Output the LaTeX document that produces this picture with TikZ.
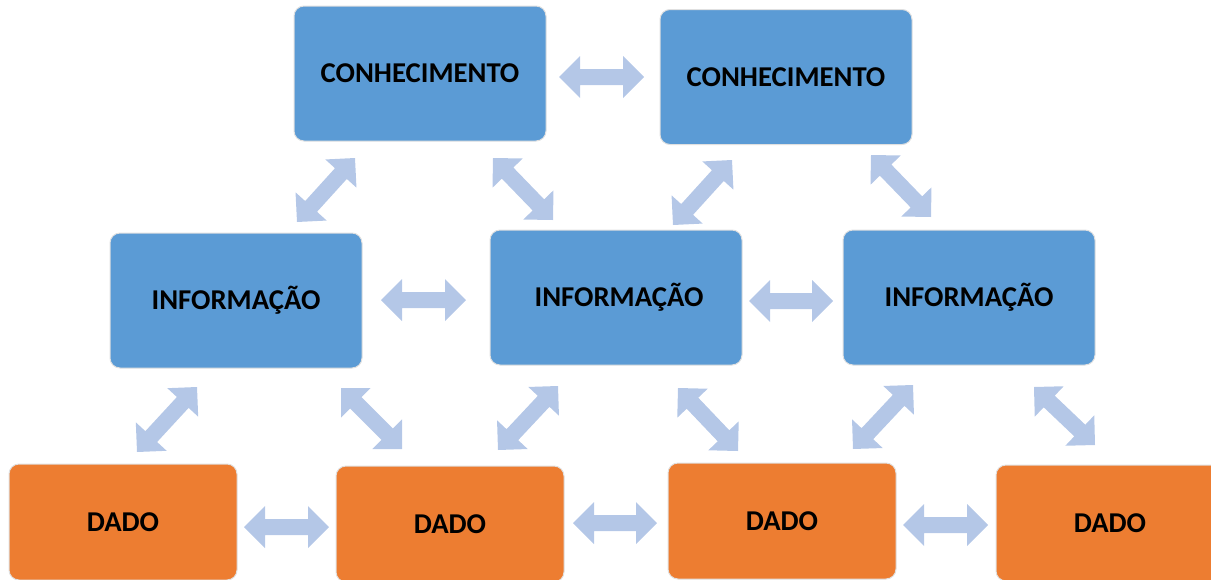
\documentclass[tikz,border=0pt]{standalone}
\usepackage{fontspec}
\setmainfont{Carlito}
\usetikzlibrary{calc}
\definecolor{boxblue}{HTML}{5B9BD5}
\definecolor{boxorange}{HTML}{ED7D31}
\definecolor{arrowcol}{HTML}{B4C7E7}
\begin{document}
\begin{tikzpicture}[x=1pt,y=-1pt,
  box/.style={rectangle, rounded corners=10pt, draw=black!12, line width=1pt,
    minimum width=252pt, minimum height=135pt, inner sep=0pt,
    font=\fontsize{28.7}{32}\selectfont\bfseries, text=black},
  kbox/.style={box, fill=boxblue},
  ibox/.style={box, fill=boxblue},
  dbox/.style={box, fill=boxorange, minimum width=228pt, minimum height=116pt},
  blockarrow/.style={fill=arrowcol, to path={
    (\tikztostart)
    -- ($(\tikztostart)!21pt!(\tikztotarget)!21pt!90:(\tikztotarget)$)
    -- ($(\tikztostart)!21pt!(\tikztotarget)!8pt!90:(\tikztotarget)$)
    -- ($(\tikztotarget)!21pt!(\tikztostart)!8pt!-90:(\tikztostart)$)
    -- ($(\tikztotarget)!21pt!(\tikztostart)!21pt!-90:(\tikztostart)$)
    -- (\tikztotarget)
    -- ($(\tikztotarget)!21pt!(\tikztostart)!21pt!90:(\tikztostart)$)
    -- ($(\tikztotarget)!21pt!(\tikztostart)!8pt!90:(\tikztostart)$)
    -- ($(\tikztostart)!21pt!(\tikztotarget)!8pt!-90:(\tikztotarget)$)
    -- ($(\tikztostart)!21pt!(\tikztotarget)!21pt!-90:(\tikztotarget)$)
    -- cycle}}
]
\useasboundingbox (0,0) rectangle (1211,579);

% boxes
\node[kbox] (k1) at (420,73.5) {CONHECIMENTO};
\node[kbox] (k2) at (786,77) {CONHECIMENTO};
\node[ibox] (i1) at (236,300.5) {INFORMAÇÃO};
\node[ibox] (i2) at (616,297.5) {\hspace*{6pt}INFORMAÇÃO};
\node[ibox] (i3) at (969,297.5) {INFORMAÇÃO};
\node[dbox] (d1) at (123,522) {DADO};
\node[dbox] (d2) at (450,524) {DADO};
\node[dbox] (d3) at (782,521) {DADO};
\node[dbox] (d4) at (1110,523) {DADO};

% arrow end points
\coordinate (a1s) at (559,77);   \coordinate (a1e) at (644,77);
\coordinate (a2s) at (297,222);  \coordinate (a2e) at (355,158);
\coordinate (a3s) at (493,158);  \coordinate (a3e) at (553,220);
\coordinate (a4s) at (673,225);  \coordinate (a4e) at (732,160);
\coordinate (a5s) at (871,155);  \coordinate (a5e) at (931,217);
\coordinate (a6s) at (381,300);  \coordinate (a6e) at (466,300);
\coordinate (a7s) at (749,301);  \coordinate (a7e) at (833,301);
\coordinate (a8s) at (137,452);  \coordinate (a8e) at (197,387);
\coordinate (a9s) at (341,388);  \coordinate (a9e) at (402,449);
\coordinate (a10s) at (498,450); \coordinate (a10e) at (558,386);
\coordinate (a11s) at (678,388); \coordinate (a11e) at (738,451);
\coordinate (a12s) at (853,449); \coordinate (a12e) at (913,385);
\coordinate (a13s) at (1034,387);\coordinate (a13e) at (1095,445);
\coordinate (a14s) at (244,527); \coordinate (a14e) at (329,527);
\coordinate (a15s) at (573,523); \coordinate (a15e) at (657,523);
\coordinate (a16s) at (903,525); \coordinate (a16e) at (988,525);

\foreach \i in {1,...,16}{
  \path[blockarrow] (a\i s) to (a\i e);
}
\end{tikzpicture}
\end{document}
